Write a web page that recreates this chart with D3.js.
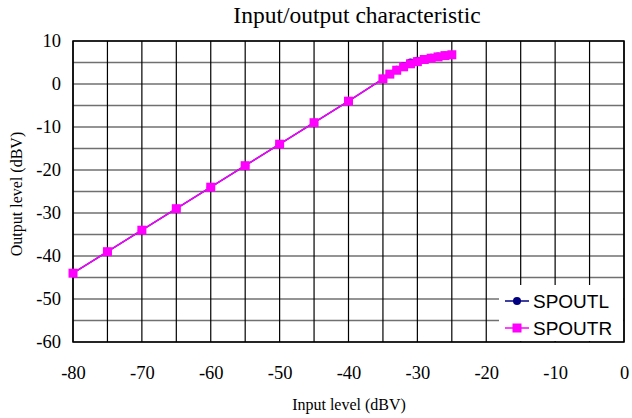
<!DOCTYPE html>
<html><head><meta charset="utf-8">
<script src="https://cdn.jsdelivr.net/npm/d3@7"></script>
<style>body{margin:0;background:#fff}svg{display:block}</style>
</head><body>
<svg id="c" width="632" height="418"></svg>
<script>
const inputLevels = [-80,-75,-70,-65,-60,-55,-50,-45,-40,-35,-34,-33,-32,-31,-30,-29,-28,-27,-26,-25];
const spoutL = [-44,-39,-34,-29,-24,-19,-14,-9,-4,1.2,2.3,3.3,4.2,5.0,5.4,5.8,6.1,6.4,6.6,6.8];
const spoutR = [-44,-39,-34,-29,-24,-19,-14,-9,-4,1.2,2.3,3.2,4.0,4.7,5.2,5.7,6.0,6.3,6.6,6.8];
const xTicks = [-80,-70,-60,-50,-40,-30,-20,-10,0];
const yTicks = [10,0,-10,-20,-30,-40,-50,-60];
const seriesNames = ["SPOUTL","SPOUTR"];
const seriesColors = ["#000080","#FF00FF"];

const svg = d3.select("#c");
const L = 73, R = 624, T = 41, B = 342;
const x = d3.scaleLinear().domain([-80,0]).range([L,R]);
const y = d3.scaleLinear().domain([-60,10]).range([B,T]);
const serif = "'Liberation Serif','Times New Roman',serif";
const fmt = d => String(d);

// grid
const g = svg.append("g");
g.selectAll("line.h").data(d3.range(-60,10.1,5)).join("line")
  .attr("x1",L).attr("x2",R).attr("y1",d=>y(d)).attr("y2",d=>y(d))
  .attr("stroke","#707070").attr("stroke-width",1.5);
g.selectAll("line.v").data(d3.range(-80,0.1,5)).join("line")
  .attr("y1",T).attr("y2",B).attr("x1",d=>x(d)).attr("x2",d=>x(d))
  .attr("stroke","#000").attr("stroke-width",1.2);
svg.append("rect").attr("x",L).attr("y",T).attr("width",R-L).attr("height",B-T)
  .attr("fill","none").attr("stroke","#000").attr("stroke-width",1.5);

// axes labels
const xa = svg.append("g").attr("transform",`translate(0,${B})`)
  .call(d3.axisBottom(x).tickValues(xTicks).tickSize(0).tickPadding(24).tickFormat(fmt));
xa.select(".domain").remove();
xa.selectAll("text").attr("font-family",serif).attr("font-size",18.5).attr("fill","#000");
const ya = svg.append("g").attr("transform",`translate(${L},0)`)
  .call(d3.axisLeft(y).tickValues(yTicks).tickSize(0).tickPadding(12).tickFormat(fmt));
ya.select(".domain").remove();
ya.selectAll("text").attr("font-family",serif).attr("font-size",18.5).attr("fill","#000");

svg.append("text").attr("x",357).attr("y",23).attr("text-anchor","middle")
  .attr("font-family",serif).attr("font-size",23.5).text("Input/output characteristic");
svg.append("text").attr("x",349).attr("y",410).attr("text-anchor","middle")
  .attr("font-family",serif).attr("font-size",16).text("Input level (dBV)");
svg.append("text").attr("transform","translate(22,194) rotate(-90)").attr("text-anchor","middle")
  .attr("font-family",serif).attr("font-size",16).text("Output level (dBV)");

// series
const line = d3.line().x(d=>x(d[0])).y(d=>y(d[1]));
const dataL = inputLevels.map((v,i)=>[v,spoutL[i]]);
const dataR = inputLevels.map((v,i)=>[v,spoutR[i]]);
svg.append("path").attr("d",line(dataL)).attr("fill","none").attr("stroke",seriesColors[0]).attr("stroke-width",1.5);
svg.selectAll("circle.l").data(dataL).join("circle").attr("cx",d=>x(d[0])).attr("cy",d=>y(d[1])).attr("r",4).attr("fill",seriesColors[0]);
svg.append("path").attr("d",line(dataR)).attr("fill","none").attr("stroke",seriesColors[1]).attr("stroke-width",1.5);
svg.selectAll("rect.r").data(dataR).join("rect").attr("x",d=>x(d[0])-4.5).attr("y",d=>y(d[1])-4.5).attr("width",9).attr("height",9).attr("fill",seriesColors[1]);

// legend
const lg = svg.append("g");
lg.append("rect").attr("x",499).attr("y",285).attr("width",R-499-1).attr("height",B-285-1).attr("fill","#fff");
seriesNames.forEach((n,i)=>{
  const cy = 301 + i*27;
  lg.append("line").attr("x1",505).attr("x2",529).attr("y1",cy).attr("y2",cy).attr("stroke",seriesColors[i]).attr("stroke-width",1.5);
  if(i===0) lg.append("circle").attr("cx",517).attr("cy",cy).attr("r",4).attr("fill",seriesColors[i]);
  else lg.append("rect").attr("x",512.5).attr("y",cy-4.5).attr("width",9).attr("height",9).attr("fill",seriesColors[i]);
  lg.append("text").attr("x",533).attr("y",cy+7).attr("font-family","'Liberation Sans',Arial,sans-serif").attr("font-size",19).text(n);
});
</script>
</body></html>
